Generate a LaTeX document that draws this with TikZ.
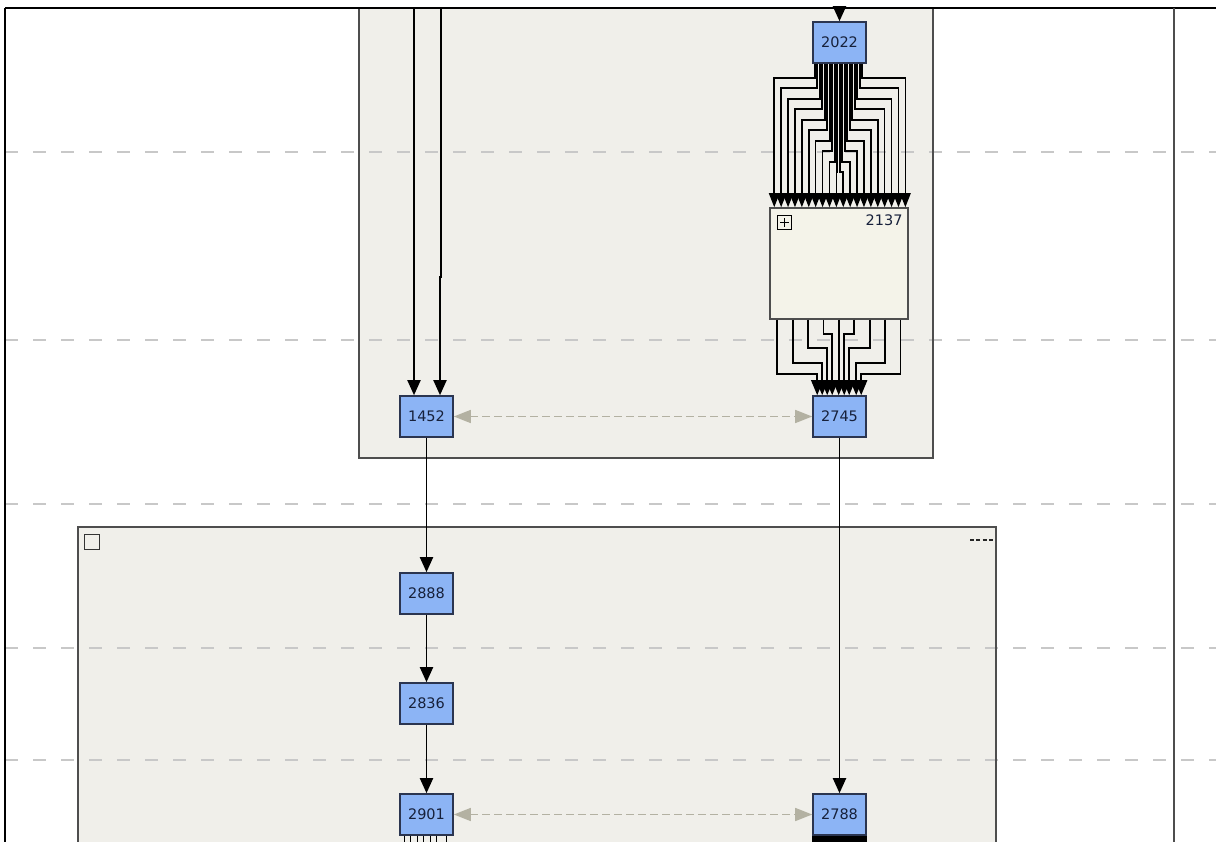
\documentclass[tikz,border=0pt]{standalone}
\usepackage{fontspec}
\newfontfamily\labfont{DejaVu Sans}
\usetikzlibrary{arrows.meta,calc}
\definecolor{nodeblue}{HTML}{8CB4F5}
\definecolor{nodeedge}{HTML}{2B3550}
\definecolor{boxfill}{HTML}{F0EFEA}
\definecolor{boxedge}{HTML}{4E4E4E}
\definecolor{innerfill}{HTML}{F4F3E9}
\definecolor{gridgray}{HTML}{C8C8C8}
\definecolor{linkgray}{HTML}{B3B1A2}
\definecolor{txt}{HTML}{17213B}
\begin{document}
\begin{tikzpicture}[x=1pt,y=-1pt,
  blk/.style={draw=nodeedge, line width=1.6pt, fill=nodeblue, minimum width=53pt, minimum height=41pt, inner sep=0pt, font=\labfont\fontsize{14.5}{16}\selectfont, text=txt},
  container/.style={draw=boxedge, line width=1.6pt},
  containerfill/.style={fill=boxfill},
  gridline/.style={draw=gridgray, line width=1.5pt, dash pattern=on 13pt off 15pt},
  flow/.style={draw=black, line width=1.9pt, -{Triangle[width=13pt,length=15pt]}},
  fana/.style={draw=black, line width=1.6pt, -{Triangle[width=10.5pt,length=14pt]}},
  fanb/.style={draw=black, line width=1.7pt, -{Triangle[width=12pt,length=15pt]}},
  link/.style={draw=linkgray, line width=1.5pt, dash pattern=on 8pt off 4pt, {Triangle[width=13pt,length=17pt]}-{Triangle[width=13pt,length=17pt]}},
  labeltext/.style={font=\labfont\fontsize{14.5}{16}\selectfont, text=txt, inner sep=0pt}
]
\useasboundingbox (0,0) rectangle (1216,842);
\clip (0,0) rectangle (1216,842);
\fill[white] (0,0) rectangle (1216,842);

% container fills
\fill[containerfill] (359,8) rectangle (933,458);
\fill[containerfill] (78,527) rectangle (996,860);

% dashed horizontal grid lines
\foreach \yy in {152,340,504,648,760}{
  \draw[gridline] (5,\yy) -- (1216,\yy);
}

% container borders
\draw[container] (359,8) rectangle (933,458);
\draw[container] (78,527) rectangle (996,860);

% outer frame
\draw[black, line width=2.2pt] (5,8) -- (1216,8);
\draw[black, line width=2.2pt] (5,8) -- (5,842);
\draw[boxedge, line width=2.2pt] (1174,8) -- (1174,842);

% container 2 decorations
\draw[black!80, line width=1.8pt] (84.5,534.5) rectangle (99.5,549.5);
\coordinate (dashA) at (970,540);
\coordinate (dashB) at (993,540);
\draw[black!85, line width=1.7pt, dash pattern=on 4pt off 2.3pt] (dashA) -- (dashB);

% nodes
\node[blk] (n2022) at (839.5,42.5) {2022};
\node[draw=boxedge, line width=1.5pt, fill=innerfill, minimum width=138pt, minimum height=111pt, inner sep=0pt] (n2137) at (839,263.5) {};
\node[labeltext, anchor=north east] (n2137lab) at ([xshift=-6pt,yshift=-7pt]n2137.north east) {2137};
\node[draw=black, line width=1.4pt, minimum size=14pt, inner sep=0pt] (plusbox) at (784.5,222.5) {};
\draw[black, line width=1.3pt] ([xshift=-4.5pt]plusbox.center) -- ([xshift=4.5pt]plusbox.center);
\draw[black, line width=1.3pt] ([yshift=-4.5pt]plusbox.center) -- ([yshift=4.5pt]plusbox.center);

\node[blk] (n1452) at (426.5,416.5) {1452};
\node[blk] (n2745) at (839.5,416.5) {2745};
\node[blk] (n2888) at (426.5,593.5) {2888};
\node[blk] (n2836) at (426.5,703.5) {2836};
\node[blk] (n2901) at (426.5,814.5) {2901};
\node[blk] (n2788) at (839.5,814.5) {2788};

% free ends
\coordinate (top2022) at (839.5,8);
\coordinate (topA) at (414,8);
\coordinate (topB) at (441,8);

% connectors from top
\draw[flow] (top2022) -- (n2022);
\draw[flow] (topA) -- (topA |- n1452.north);
\draw[flow] (topB) -- ++(0,269) -- ++(-1,0) -- ([xshift=13.5pt]n1452.north);

% fan 2022 -> 2137
\foreach \i in {0,...,19}{
  \pgfmathsetmacro{\xs}{2.5+\i*2.5}
  \pgfmathsetmacro{\xt}{5+\i*6.9}
  \pgfmathsetmacro{\jj}{\i<10 ? \i : 19-\i}
  \pgfmathsetmacro{\lev}{77+\jj*10.5-63}
  \draw[fana] ([xshift=\xs pt]n2022.south west) -- ++(0,\lev) -| ([xshift=\xt pt]n2137.north west);
}

% fan 2137 -> 2745
\foreach \k/\xt/\lv in {0/5/373,1/10/362,2/15/347,3/20/333,4/26.5/333,5/32/333,6/37/347,7/44/362,8/49/373}{
  \pgfmathsetmacro{\xs}{8+\k*15.4}
  \pgfmathsetmacro{\lev}{\lv-319}
  \draw[fanb] ([xshift=\xs pt]n2137.south west) -- ++(0,\lev) -| ([xshift=\xt pt]n2745.north west);
}

% vertical flows
\draw[flow] (n1452) -- (n2888);
\draw[flow] (n2888) -- (n2836);
\draw[flow] (n2836) -- (n2901);
\draw[flow] (n2745) -- (n2788);

% dashed links
\draw[link] (n1452) -- (n2745);
\draw[link] (n2901) -- (n2788);

% outgoing stubs
\fill[black] (n2788.south west) rectangle ([yshift=-10pt]n2788.south east);
\foreach \dx in {5,11.5,18,24.5,31,37.5,47.5}{
  \draw[black, line width=1.4pt] ([xshift=\dx pt]n2901.south west) -- ++(0,10);
}
\end{tikzpicture}
\end{document}
